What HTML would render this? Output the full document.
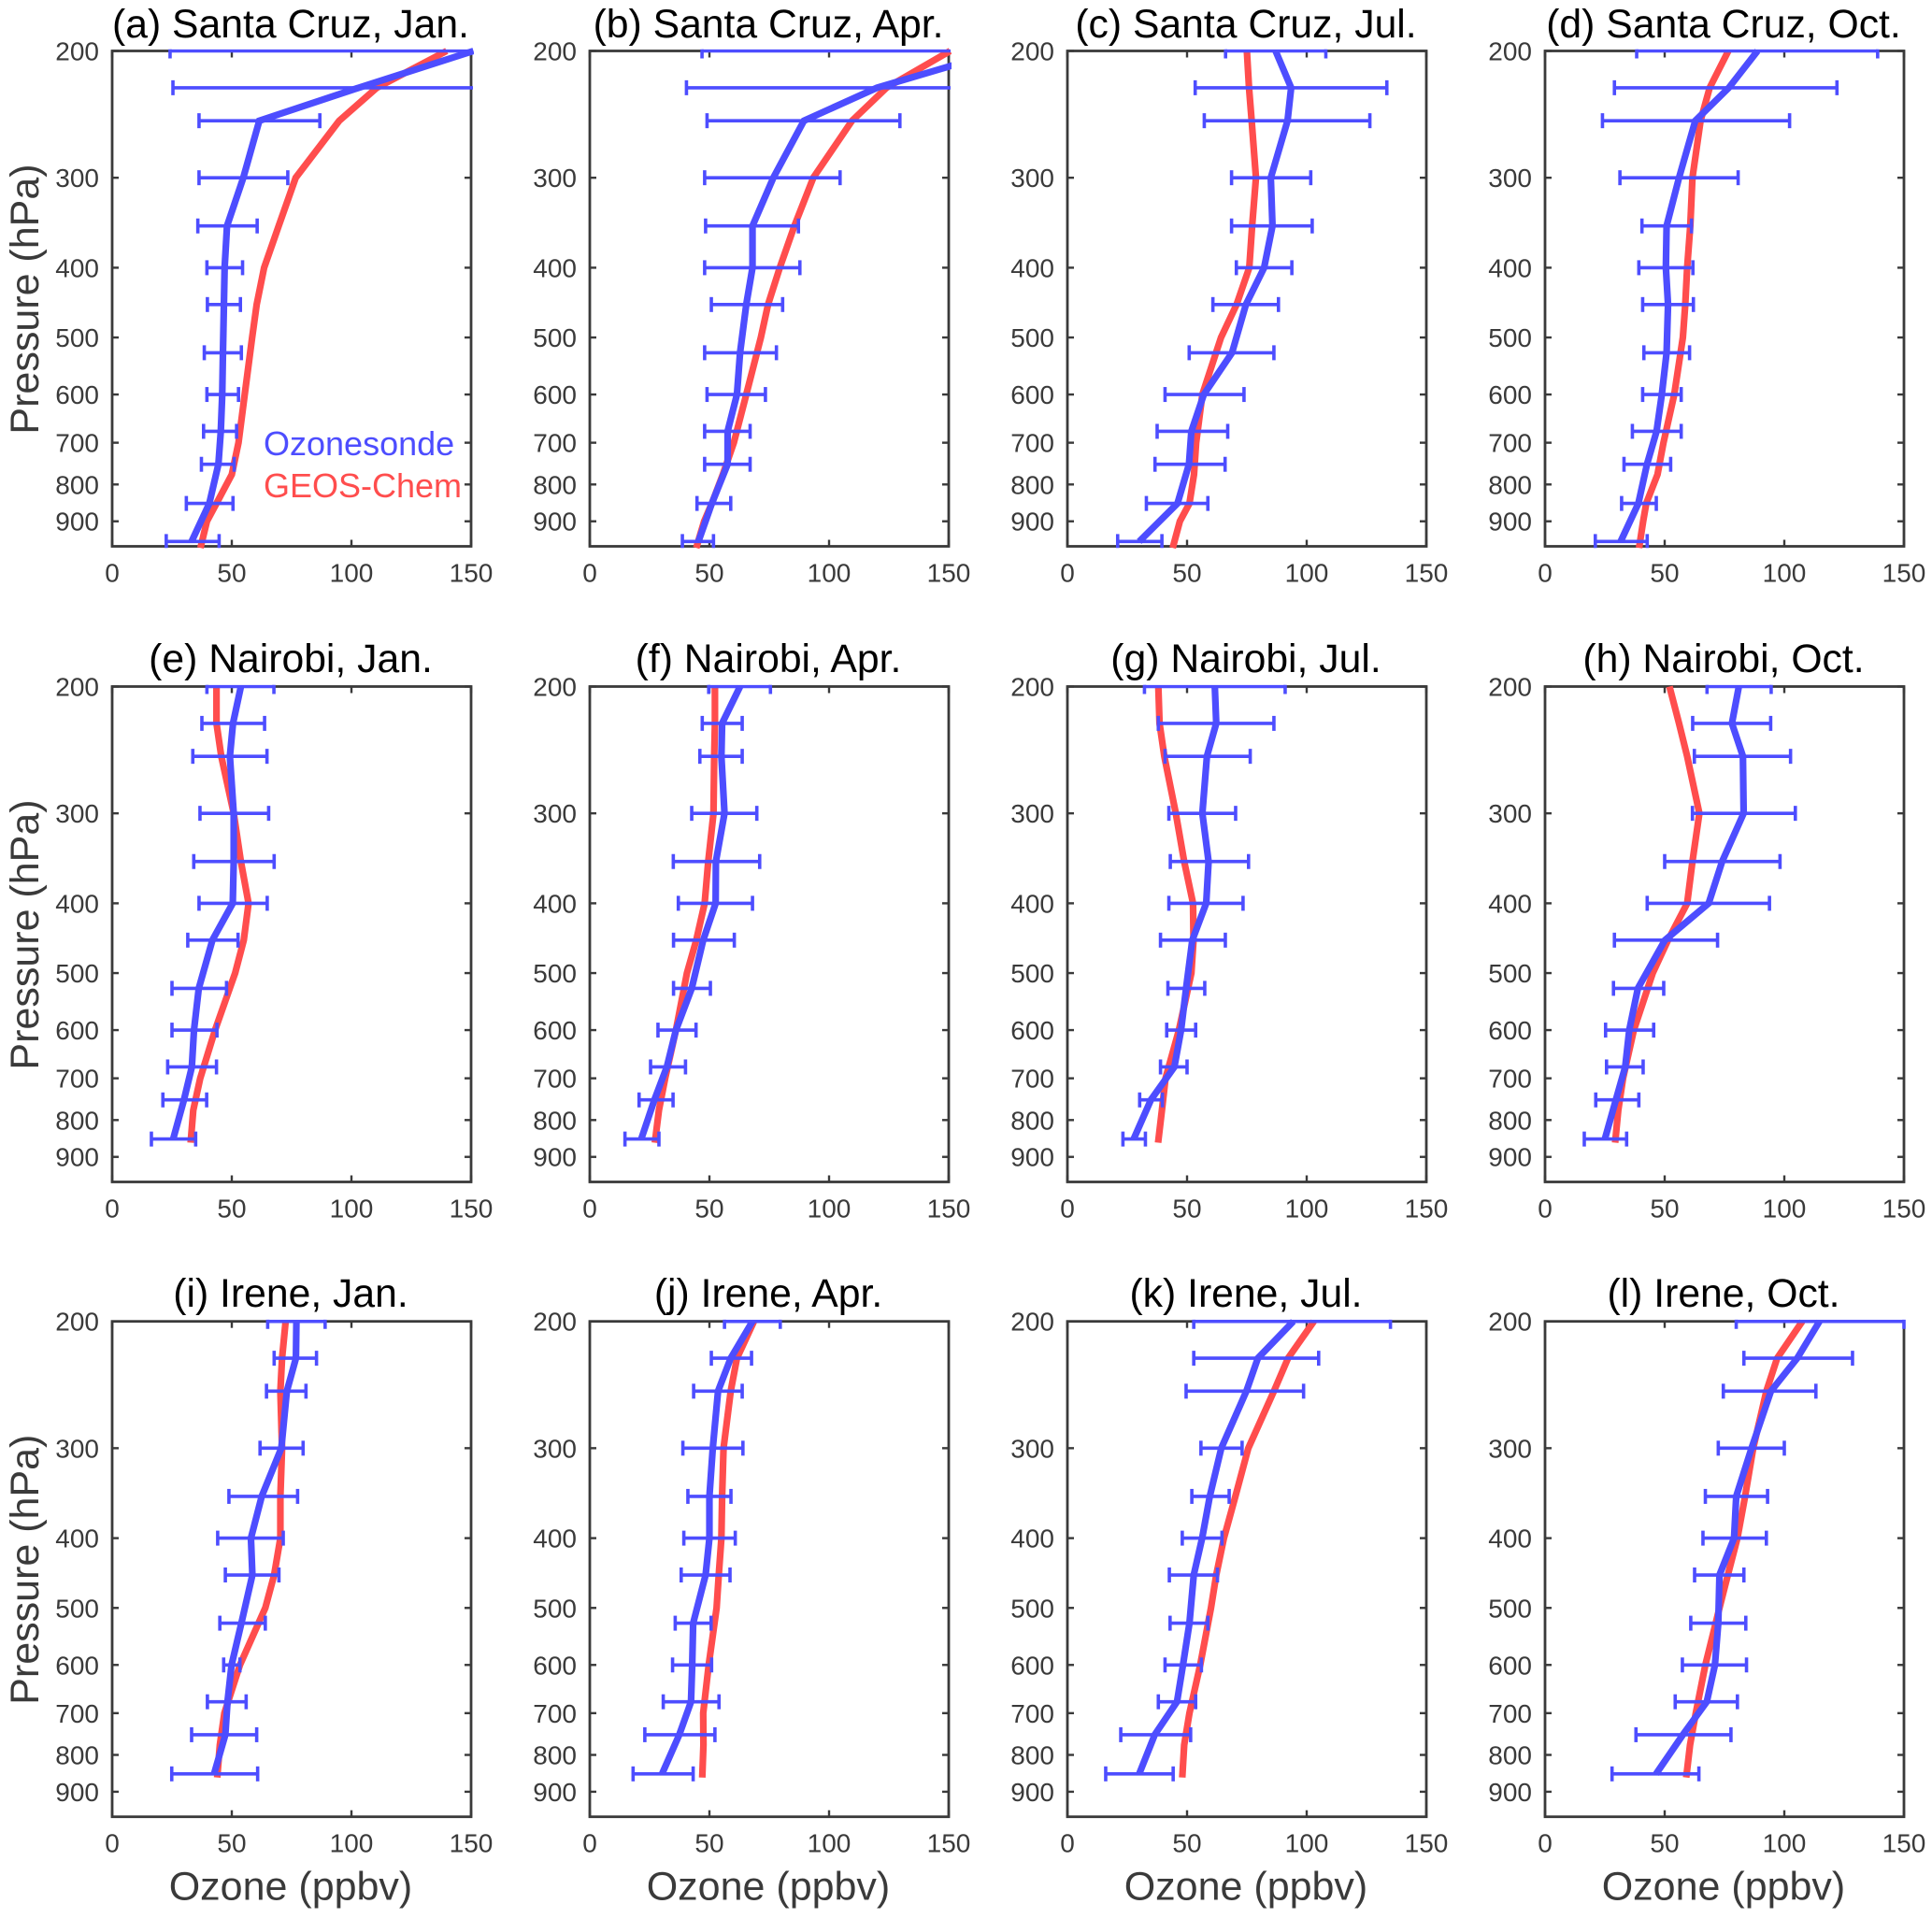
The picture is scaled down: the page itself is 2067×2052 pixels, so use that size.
<!DOCTYPE html>
<html lang="en">
<head>
<meta charset="utf-8">
<title>Ozone profiles: ozonesonde vs GEOS-Chem</title>
<style>
html,body{margin:0;padding:0;background:#fff;}
svg{display:block;font-family:"Liberation Sans",Arial,sans-serif;}
</style>
</head>
<body>
<svg id="chart" xmlns="http://www.w3.org/2000/svg" width="2067" height="2052" viewBox="0 0 2067 2052"></svg>
<script>
const xTicks = [0, 50, 100, 150];
const yTicks = [200, 300, 400, 500, 600, 700, 800, 900];
const sondeLevelsSantaCruz = [200, 225, 250, 300, 350, 400, 450, 525, 600, 675, 750, 850, 960];
const sondeLevelsOther = [200, 225, 250, 300, 350, 400, 450, 525, 600, 675, 750, 850];
const modelLevelsSantaCruz = [200, 225, 250, 300, 350, 400, 450, 500, 600, 700, 775, 850, 900, 980];
const modelLevelsOther = [200, 225, 250, 300, 350, 400, 450, 500, 600, 700, 775, 860];

const titles = ["(a) Santa Cruz, Jan.", "(b) Santa Cruz, Apr.", "(c) Santa Cruz, Jul.", "(d) Santa Cruz, Oct.",
  "(e) Nairobi, Jan.", "(f) Nairobi, Apr.", "(g) Nairobi, Jul.", "(h) Nairobi, Oct.",
  "(i) Irene, Jan.", "(j) Irene, Apr.", "(k) Irene, Jul.", "(l) Irene, Oct."];

const sondeA = [151, 103, 61.5, 54.8, 48, 47, 46.7, 46.3, 46, 45.4, 44.4, 40.6, 33.2];
const lowA = [24.2, 25.4, 36.3, 36.3, 35.8, 39.6, 39.8, 38.5, 39.6, 38.2, 37.3, 31, 22.6];
const highA = [190, 190, 86.8, 73.4, 60.6, 54.5, 53.6, 54, 52.8, 52, 51, 50.5, 44.7];
const modelA = [139.8, 110.6, 94.9, 76.7, 69.6, 63.5, 60.4, 58.5, 55.4, 52.8, 50, 43.6, 39.6, 36.9];

const sondeB = [172, 120, 89.5, 76.7, 68, 68, 65.4, 62.8, 61.5, 57.6, 57.6, 51, 45.4];
const lowB = [46.9, 40.4, 49, 48, 48.4, 48, 50.8, 48, 49, 48, 48, 44.8, 38.7];
const highB = [190, 190, 129.6, 104.6, 87.2, 87.8, 80.6, 78, 73.4, 67, 67, 58.9, 51.7];
const modelB = [150.6, 124, 109.6, 93.4, 85.5, 79.4, 74.5, 71.5, 65.4, 60.2, 55.6, 51, 47.8, 44.5];

const sondeC = [87, 93.5, 92, 85, 85.7, 82.2, 74.6, 68.8, 57, 51.8, 50.8, 46, 30];
const lowC = [66.1, 53.4, 57.2, 68.6, 68.6, 70.6, 60.8, 50.9, 40.8, 37.5, 36.6, 33, 21];
const highC = [108, 133.5, 126.4, 101.7, 102.3, 93.8, 88.2, 86.3, 73.8, 67, 65.9, 58.7, 39.5];
const modelC = [75, 75.9, 77, 78.8, 77.2, 76, 70.7, 64.2, 56.4, 53.8, 52.9, 51, 47, 44];

const sondeD = [88.8, 76.8, 62.8, 56, 50.8, 50.5, 51.4, 50.8, 48.8, 46.6, 42.6, 39, 31.6];
const lowD = [38.3, 29, 24, 31.3, 40.5, 39.2, 40.8, 41.3, 40.8, 36.5, 33, 32, 21];
const highD = [139, 122, 102.2, 80.7, 61.2, 61.8, 62, 60.4, 56.9, 56.9, 52.5, 46.5, 42.7];
const modelD = [76.6, 68.8, 65, 61.6, 60.7, 59.4, 58.6, 57.6, 54, 49.5, 47, 42.3, 41, 39.3];

const sondeE = [53.8, 50.5, 49.2, 50.8, 50.8, 50.4, 41.9, 36.2, 34.2, 33.3, 30, 25.5];
const lowE = [39.6, 37.5, 33.7, 36.7, 34.1, 36.3, 31.6, 25, 25, 23.2, 21.2, 16.4];
const highE = [67.6, 63.7, 64.7, 65.4, 67.7, 64.8, 52.6, 47.8, 43.8, 43.6, 39.5, 34.9];
const modelE = [43.6, 43.6, 45.6, 50.8, 53.8, 57, 55, 51.4, 43, 36.8, 33.9, 32.8];

const sondeF = [62.8, 55.3, 55, 56.3, 52.7, 52.6, 47.4, 42.6, 36, 32.2, 27, 21.5];
const lowF = [49.7, 47, 46, 42.6, 34.9, 37, 35, 35, 28.5, 25.4, 20.6, 14.7];
const highF = [75.5, 63.7, 63.7, 69.8, 71, 68, 60.4, 50.4, 44.4, 40, 34.8, 28.9];
const modelF = [52.3, 52.3, 52, 51.7, 49.5, 48, 44.5, 40.6, 36, 31.5, 28.9, 27.2];

const sondeG = [61.6, 62.2, 58.3, 56.4, 59, 58, 52.2, 49.6, 47.5, 44.7, 34.9, 27.7];
const lowG = [32.2, 38, 40.8, 42.4, 43, 42.4, 38.9, 42, 41.5, 38.9, 30.2, 23.2];
const highG = [91, 86.3, 76.4, 70.3, 75.7, 73.4, 66, 57.4, 53.6, 50, 39.7, 32.6];
const modelG = [38, 38.5, 40.5, 45.3, 48.8, 52.5, 52.7, 51.8, 46.6, 41, 39.5, 37.9];

const sondeH = [81, 78.1, 82.7, 83, 74, 68.4, 50.1, 38.8, 35.2, 33.5, 29.6, 25];
const lowH = [67.7, 61.7, 62.4, 61.6, 50, 42.7, 29, 28.6, 25.3, 25.7, 21.2, 16.4];
const highH = [94.5, 94.3, 102.6, 104.6, 98.2, 93.8, 72.1, 49.6, 45.4, 41, 39.2, 34.1];
const modelH = [52, 56, 59.4, 64.5, 61.6, 59.4, 51.4, 45, 37.1, 32.6, 30.6, 29.3];

const sondeI = [77, 76.8, 73, 70.7, 62.5, 58, 58.6, 54, 49.9, 48.2, 47.3, 42.6];
const lowI = [65, 67.7, 64.5, 61.8, 48.8, 44.1, 47.3, 45, 46.6, 39.8, 33.2, 24.9];
const highI = [89, 85.4, 81, 79.8, 77.5, 71.5, 69.7, 64, 53.4, 56, 60.4, 60.8];
const modelI = [72.5, 71, 70.3, 71, 70.3, 70.3, 67.7, 64, 53.4, 46.9, 45, 43.9];

const sondeJ = [68, 58.9, 53.6, 51.4, 50, 50, 48.4, 43.2, 42.8, 42.3, 37.4, 30.2];
const lowJ = [56.3, 50.8, 43.4, 38.9, 41, 39.3, 38.2, 35.7, 34.6, 30.7, 23, 18.1];
const highJ = [79.6, 67.6, 63.7, 64, 59, 60.8, 58.6, 50.7, 50.9, 54, 52.3, 43.2];
const modelJ = [68.6, 61.5, 58.9, 55.9, 55.3, 55, 53.9, 53, 49.7, 47.4, 47.5, 47];

const sondeK = [94.4, 79.6, 74.8, 64.3, 59.5, 56.3, 52.8, 51, 48.3, 45.8, 36.5, 30];
const lowK = [52.8, 52.8, 49.6, 55.8, 52, 48, 42.6, 42.9, 40.8, 38, 22.3, 16];
const highK = [135, 105, 98.7, 73, 67.6, 64.6, 62.7, 58.7, 56, 53.6, 51.5, 44.2];
const modelK = [103, 92.2, 86.3, 75.6, 70.2, 65.4, 62.2, 60, 55.5, 51, 48.8, 48];

const sondeL = [114.7, 105.4, 94.4, 86.3, 79.9, 79, 72.9, 72.4, 71, 67.6, 57.6, 46.4];
const lowL = [79.9, 83.1, 74.5, 72.4, 67, 66, 62.5, 60.9, 57.4, 54.4, 38, 28];
const highL = [150, 128.5, 113.2, 100, 93, 92.5, 83.1, 83.9, 84.2, 80.4, 77.7, 64.3];
const modelL = [107.5, 97, 92.5, 87, 83.6, 80.4, 76.4, 72.9, 67, 63, 60.6, 59];

const sondeSeries = [sondeA, sondeB, sondeC, sondeD, sondeE, sondeF, sondeG, sondeH, sondeI, sondeJ, sondeK, sondeL];
const lowSeries = [lowA, lowB, lowC, lowD, lowE, lowF, lowG, lowH, lowI, lowJ, lowK, lowL];
const highSeries = [highA, highB, highC, highD, highE, highF, highG, highH, highI, highJ, highK, highL];
const modelSeries = [modelA, modelB, modelC, modelD, modelE, modelF, modelG, modelH, modelI, modelJ, modelK, modelL];

const xMax = 150;
const pTop = 200;
const pBottom = 975;

const NS = "http://www.w3.org/2000/svg";
const root = document.getElementById("chart");
const defs = document.createElementNS(NS, "defs");
root.appendChild(defs);

const AXIS = "#3a3a3a";
const BLUE = "#4d4dff";
const RED = "#ff4d4d";
const panelW = 384;
const panelH = 530;
const lefts = [120, 631, 1142, 1653];
const tops = [54.5, 734.5, 1413.7];

function shape(tag, attrs, parent, text) {
  const el = document.createElementNS(NS, tag);
  for (const k in attrs) el.setAttribute(k, attrs[k]);
  if (text !== undefined) el.textContent = text;
  parent.appendChild(el);
  return el;
}

function xScale(v) { return v / xMax * panelW; }
function yScale(p) { return Math.log(p / pTop) / Math.log(pBottom / pTop) * panelH; }

function pointsOf(values, levels) {
  return values.map(function (v, i) { return xScale(v).toFixed(2) + "," + yScale(levels[i]).toFixed(2); }).join(" ");
}

titles.forEach(function (title, idx) {
  const col = idx % 4;
  const row = Math.floor(idx / 4);
  const letter = title.charAt(1);
  const isSanta = row === 0;
  const sondeLevels = isSanta ? sondeLevelsSantaCruz : sondeLevelsOther;
  const modelLevels = isSanta ? modelLevelsSantaCruz : modelLevelsOther;

  const lineClip = shape("clipPath", { id: "line-clip-" + idx }, defs);
  shape("rect", { x: -4, y: -4, width: panelW + 7, height: panelH + 8 }, lineClip);
  const barClip = shape("clipPath", { id: "bar-clip-" + idx }, defs);
  shape("rect", { x: -2, y: -1.8, width: panelW + 4, height: panelH + 3.6 }, barClip);

  const g = shape("g", { transform: "translate(" + lefts[col] + "," + tops[row] + ")" }, root);
  
  

  const titleEl = shape("text", { x: panelW / 2 - 1, y: row === 0 ? -14.5 : -15.5, "text-anchor": "middle", "font-size": 42.7, fill: "#000" }, g, title);
  
  

  const frame = shape("rect", { x: 0, y: 0, width: panelW, height: panelH, fill: "none", stroke: AXIS, "stroke-width": 2.8 }, g);
  
  

  xTicks.forEach(function (t) {
    const x = xScale(t);
    const tickTop = shape("line", { x1: x, x2: x, y1: 0, y2: 7, stroke: AXIS, "stroke-width": 2.4 }, g);
    
    
    const tickBottom = shape("line", { x1: x, x2: x, y1: panelH, y2: panelH - 7, stroke: AXIS, "stroke-width": 2.4 }, g);
    
    
    const label = shape("text", { x: x, y: panelH + 38, "text-anchor": "middle", "font-size": 28, fill: AXIS }, g, String(t));
    
    
  });

  yTicks.forEach(function (t) {
    const y = yScale(t);
    const tickLeft = shape("line", { x1: 0, x2: 7, y1: y, y2: y, stroke: AXIS, "stroke-width": 2.4 }, g);
    
    
    const tickRight = shape("line", { x1: panelW, x2: panelW - 7, y1: y, y2: y, stroke: AXIS, "stroke-width": 2.4 }, g);
    
    
    const label = shape("text", { x: -14, y: y + 10, "text-anchor": "end", "font-size": 28, fill: AXIS }, g, String(t));
    
    
  });

  const modelLine = shape("polyline", { points: pointsOf(modelSeries[idx], modelLevels), fill: "none", stroke: RED, "stroke-width": 7.2, "stroke-linejoin": "miter", "clip-path": "url(#line-clip-" + idx + ")" }, g);
  
  

  const bars = shape("g", { "clip-path": "url(#bar-clip-" + idx + ")", stroke: BLUE, "stroke-width": 3.6 }, g);
  
  
  sondeLevels.forEach(function (p, i) {
    const y = yScale(p);
    const xl = xScale(lowSeries[idx][i]);
    const xh = xScale(highSeries[idx][i]);
    const bar = shape("line", { x1: xl, x2: xh, y1: y, y2: y }, bars);
    
    
    const capLow = shape("line", { x1: xl, x2: xl, y1: y - 8, y2: y + 8 }, bars);
    
    
    const capHigh = shape("line", { x1: xh, x2: xh, y1: y - 8, y2: y + 8 }, bars);
    
    
  });

  const sondeLine = shape("polyline", { points: pointsOf(sondeSeries[idx], sondeLevels), fill: "none", stroke: BLUE, "stroke-width": 7.2, "stroke-linejoin": "miter", "clip-path": "url(#line-clip-" + idx + ")" }, g);
  
  

  if (col === 0) {
    const yTitle = shape("text", { transform: "translate(-79," + (panelH / 2 + 0.5) + ") rotate(-90)", "text-anchor": "middle", "font-size": 43, fill: AXIS }, g, "Pressure (hPa)");
    
    
  }
  if (row === 2) {
    const xTitle = shape("text", { x: panelW / 2 - 1, y: panelH + 89, "text-anchor": "middle", "font-size": 43, fill: AXIS }, g, "Ozone (ppbv)");
    
    
  }
  if (idx === 0) {
    const legendSonde = shape("text", { x: 162, y: 432.5, "font-size": 36, fill: BLUE }, g, "Ozonesonde");
    
    
    const legendModel = shape("text", { x: 162, y: 477.5, "font-size": 36, fill: RED }, g, "GEOS-Chem");
    
    
  }
});
</script>
</body>
</html>
